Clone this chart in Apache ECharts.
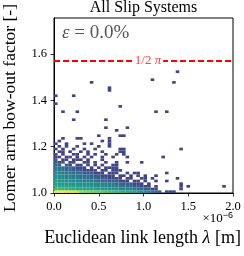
<!DOCTYPE html>
<html><head><meta charset="utf-8">
<script src="https://cdn.jsdelivr.net/npm/echarts@6/dist/echarts.min.js"></script>
<style>html,body{margin:0;padding:0;background:#fff}#c{width:244px;height:256px}</style>
</head><body><div id="c"></div>
<script>
// ---- data ----
const xTicks = [0.0, 0.5, 1.0, 1.5, 2.0];          // ×1e-6 m
const yTicks = [1.0, 1.2, 1.4, 1.6];
const binWidthX = 0.04;    // ×1e-6 m
const binHeightY = 0.0115; // bow-out factor
const yMin = 1.0, yMax = 1.755;
const halfPi = Math.PI / 2;
// counts per row (row j = bow-out bin, index i = length bin)
const countRows = [
  [280,300,290,270,250,230,200,110,90,80,70,64,55,50,40,36,32,28,24,20,18,16,14,11,9,7,6,4,3,2,0,1,1,1],
  [30,28,26,24,22,20,18,17,16,15,14,13,12,11,10,9,8,7,6,6,5,5,4,3,3,2,2,1,1,0,0,0,0,0,0,1],
  [20,18,16,15,14,13,12,12,11,10,9,8,8,7,6,6,5,5,4,4,3,3,2,2,1,1,1,0,1,0,0,0,0,0,0,1,0,1,0,0,0,0,0,0,0,0,0,1],
  [14,12,11,10,10,9,9,8,8,7,7,6,6,5,5,4,4,3,3,2,2,2,1,1,1,0,1,0,0,0,0,0,0,0,0,1],
  [12,10,9,8,8,7,6,6,5,5,4,4,3,3,3,2,2,2,1,1,1,0,1,1,0,1,0,0,1,0,0,1],
  [10,8,7,6,6,5,5,4,4,3,3,3,2,2,2,1,1,1,1,0,1,1,0,0,1,1,0,1,0,0,0,0,0,0,1],
  [8,7,6,5,5,4,4,3,3,3,2,2,2,1,1,1,1,0,1,1,0,1,0,1,0,1,0,0,1],
  [7,6,5,4,4,3,3,3,2,2,2,1,1,1,0,1,1,1,0,0,1,0,1,1,0,0,0,0,0,0,0,1],
  [5,4,4,3,3,2,2,2,1,1,1,1,0,1,1,0,1,1,1],
  [4,3,3,2,3,2,1,1,1,0,1,0,1,0,1,1,1,1],
  [3,2,0,2,1,0,1,1,0,1,0,1,0,1,0,0,1,1],
  [2,1,2,0,1,1,0,0,1,1,0,1,0,0,1,0,0,1,0,0,1,0,0,0,1],
  [2,0,1,1,0,1,1,1,0,1,0,0,0,1],
  [1,1,0,1,1,0,1,0,1,0,1,0,0,1,0,0,1,0,0,0,1,0,0,0,0,0,0,0,0,0,1],
  [1,0,1,0,0,1,1,0,0,1,0,1,0,0,1,0,0,1,0,1],
  [0,1,1,0,1,0,0,1,0,1,0,0,0,1,0,0,0,0,1,1],
  [1,0,1,0,0,1,0,0,1,0,0,1,0,0,0,0,0,0,1,1,0,0,0,0,0,0,0,0,0,0,0,0,0,0,0,1],
  [0,1,0,1,0,0,1,0,0,0,0,0,1,0,0,1],
  [1,0,0,1,0,0,0,0,1,0,1,0,0,0,0,1],
  [0,1,0,0,0,0,0,0,0,0,0,0,0,1,0,1],
  [0,0,1,0,0,0,1,1,0,0,0,0,0,0,0,1]
];
// isolated cells above the dense region: [lengthBin, bowOutBin, count]
const sparseCells = [
  [12,21,1],[18,21,1],[19,21,1],[17,23,1],[14,24,1],[20,24,1],
  [5,27,1],[14,27,1],[2,30,1],[6,30,1],[28,30,1],[31,30,1],
  [18,32,1],[0,33,1],[0,36,1],[5,36,1],[15,38,1],[15,39,1],
  [10,41,1],[33,41,1],[27,42,1],[34,45,1]
];
const countMax = 300;
const viridis = ['#414487','#355f8d','#2a788e','#21918c','#22a884','#44bf70','#7ad151','#bddf26','#fde725'];

// ---- build cells ----
const cells = [];
countRows.forEach((row, j) => row.forEach((c, i) => {
  if (c > 0) cells.push([i*binWidthX, yMin + j*binHeightY, (i+1)*binWidthX, yMin + (j+1)*binHeightY, Math.log10(c)]);
}));
sparseCells.forEach(([i, j, c]) => {
  cells.push([i*binWidthX, yMin + j*binHeightY, (i+1)*binWidthX, yMin + (j+1)*binHeightY, Math.log10(c)]);
});

const serif = 'Liberation Serif';
const chart = echarts.init(document.getElementById('c'), null, {renderer: 'canvas'});
const G = {left: 54, right: 11, top: 18, bottom: 63};
chart.setOption({
  animation: false,
  textStyle: {fontFamily: serif},
  grid: Object.assign({show: true, borderColor: '#000', borderWidth: 1, containLabel: false}, G),
  xAxis: {
    type: 'value', min: xTicks[0], max: xTicks[xTicks.length-1], interval: 0.5,
    axisLine: {lineStyle: {color: '#000', width: 1}},
    axisTick: {length: 3.5, lineStyle: {color: '#000', width: 0.8}},
    axisLabel: {color: '#000', fontSize: 12.5, fontFamily: serif, margin: 7, formatter: v => v.toFixed(1)},
    splitLine: {show: false}
  },
  yAxis: {
    type: 'value', min: yMin, max: yMax, interval: 0.2,
    axisLine: {show: true, lineStyle: {color: '#000', width: 1}},
    axisTick: {show: true, length: 3.5, lineStyle: {color: '#000', width: 0.8}},
    axisLabel: {color: '#000', fontSize: 12.5, fontFamily: serif, margin: 7, showMaxLabel: false,
      formatter: v => yTicks.some(t => Math.abs(t - v) < 1e-9) ? v.toFixed(1) : ''},
    splitLine: {show: false}
  },
  visualMap: {show: false, type: 'continuous', dimension: 4, min: 0, max: Math.log10(countMax),
    inRange: {color: viridis}, seriesIndex: 0},
  series: [{
    type: 'custom',
    coordinateSystem: 'cartesian2d',
    encode: {x: [0, 2], y: [1, 3]},
    data: cells,
    renderItem: (params, api) => {
      const p0 = api.coord([api.value(0), api.value(1)]);
      const p1 = api.coord([api.value(2), api.value(3)]);
      return {type: 'rect', shape: {x: p0[0], y: p1[1], width: p1[0]-p0[0], height: p0[1]-p1[1]},
        style: {fill: api.visual('color')}};
    },
    markLine: {silent: true, symbol: 'none', label: {show: false},
      lineStyle: {color: '#ff0000', type: [6, 3], width: 1.8},
      data: [{yAxis: halfPi}]}
  }]
});

const lbl = chart.convertToPixel({gridIndex: 0}, [1.05, halfPi]);
const plotL = G.left, plotR = 244 - G.right, plotT = G.top, plotB = 256 - G.bottom;
chart.setOption({graphic: [
  {type: 'text', x: (plotL+plotR)/2, y: 8, style: {text: 'All Slip Systems', font: '16px "Liberation Serif"', fill: '#000', align: 'center', verticalAlign: 'middle'}},
  {type: 'text', x: 62, y: 33, style: {
    text: '{e|ε} = 0.0%', fill: '#555', align: 'left', verticalAlign: 'middle',
    rich: {e: {fontFamily: serif, fontStyle: 'italic', fontSize: 19, fill: '#555'}},
    font: '19px "Liberation Serif"'}},
  {type: 'text', x: lbl[0], y: lbl[1], z: 10, style: {
    text: '1/2 {p|π}', fill: '#f54545', align: 'center', verticalAlign: 'middle',
    font: '13px "Liberation Serif"', backgroundColor: '#fff', padding: [1, 2],
    rich: {p: {fontFamily: serif, fontStyle: 'italic', fontSize: 13, fill: '#f54545'}}}},
  {type: 'text', x: plotR, y: 219, style: {
    text: '×10{s|−6}', fill: '#000', align: 'right', verticalAlign: 'middle',
    font: '13px "Liberation Serif"', rich: {s: {fontSize: 9, verticalAlign: 'top', padding: [0,0,6,0], fill: '#000'}}}},
  {type: 'text', x: (plotL+plotR)/2 - 1, y: 238, style: {
    text: 'Euclidean link length {l|λ} [m]', fill: '#000', align: 'center', verticalAlign: 'middle',
    font: '18px "Liberation Serif"', rich: {l: {fontFamily: serif, fontStyle: 'italic', fontSize: 18, fill: '#000'}}}},
  {type: 'text', x: 10, y: 108, rotation: Math.PI/2, style: {
    text: 'Lomer arm bow-out factor [-]', fill: '#000', align: 'center', verticalAlign: 'middle',
    font: '17.5px "Liberation Serif"'}}
]});
</script></body></html>
